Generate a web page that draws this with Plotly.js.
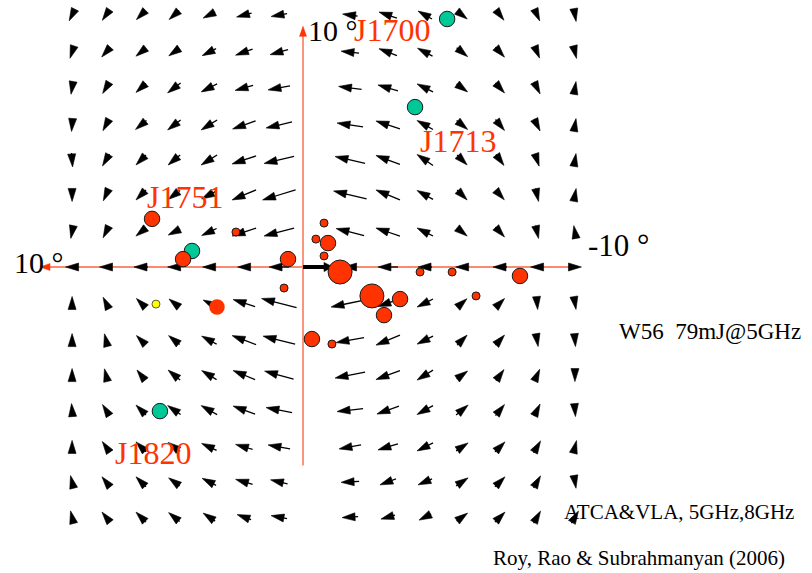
<!DOCTYPE html>
<html><head><meta charset="utf-8">
<script src="https://cdn.plot.ly/plotly-3.0.1.min.js"></script>
<style>html,body{margin:0;padding:0;background:#fff}#chart{width:812px;height:573px}</style>
</head><body><div id="chart"></div>
<script>
// grid of the vector field (degrees: l to the left, b up)
const gridL = [8.78, 7.49, 6.16, 4.90, 3.57, 2.24, 0.91, -0.42, -1.79, -3.23, -4.64, -6.05, -7.49, -8.90, -10.34];
const gridB = [9.58, 8.17, 6.81, 5.40, 4.07, 2.74, 1.33, 0, -1.37, -2.78, -4.11, -5.44, -6.84, -8.17, -9.51];
// vector components (screen right / screen up), one row per gridB value
const arrowU = [
 [-5,-7,-8,-10,-12,-15,-16,null,-15,-18,-14,9,7,5,2],
 [-4,-8,-10,-10,-14,-17,-18,null,-18,-18,-15,11,9,5,3],
 [-2,-6,-10,-13,-16,-18,-22,null,-23,-20,-16,11,9,6,2],
 [-1,-6,-11,-13,-16,-23,-26,null,-26,-24,-16,11,9,6,2],
 [1,-7,-10,-12,-16,-24,-30,null,-30,-24,-16,10,8,4,2],
 [0,-5,-10,-12,-15,-24,-33,null,-33,-24,-16,10,8,3,2],
 [-2,-5,-10,-12,-15,-24,-30,null,-28,-24,-16,10,9,3,-2],
 [-13,-10,-14,-12,-13,-12,-20,null,-12,-20,-14,-12,-14,-11,10],
 [0,-5,-9,-10,-12,-22,-35,null,-38,-20,-16,9,9,1,2],
 [0,-3,-9,-11,-15,-24,-32,null,-28,-24,-16,10,9,2,1],
 [0,-3,-8,-12,-15,-22,-29,null,-30,-24,-16,11,8,5,0],
 [-1,-7,-10,-13,-16,-22,-26,null,-26,-22,-16,12,9,6,1],
 [0,-7,-10,-12,-15,-17,-22,null,-22,-20,-16,12,10,7,3],
 [-3,-8,-10,-11,-14,-17,-17,null,-18,-16,-14,12,10,7,2],
 [-3,-8,-10,-11,-12,-14,-16,null,-16,-14,-12,11,10,7,7]
];
const arrowV = [
 [-10,-10,-8,-9,-6,-4,-3,null,2,6,8,-7,-9,-11,-11],
 [-12,-9,-8,-7,-7,-6,-5,null,2,7,8,-9,-10,-12,-12],
 [-12,-10,-9,-10,-8,-5,-4,null,3,6,8,-8,-10,-12,12],
 [-12,-11,-9,-10,-10,-8,-6,null,4,8,9,-9,-11,-12,12],
 [-14,-12,-10,-10,-10,-8,-7,null,7,9,11,-10,-11,-12,12],
 [-10,-11,-10,-9,-8,-10,-10,null,8,10,9,-10,-9,-13,11],
 [-10,-10,-8,-6,-7,-8,-8,null,7,8,8,-8,-10,-13,11],
 [0,0,0,0,0,0,0,null,0,0,0,0,0,0,0],
 [9,10,9,8,6,7,9,null,-8,-7,-8,8,9,-11,-12],
 [11,12,9,9,8,9,8,null,-5,-10,-8,10,10,-12,-12],
 [11,12,10,10,9,9,8,null,-6,-9,-10,8,11,11,-12],
 [12,11,10,9,9,8,5,null,-3,-8,-9,10,11,12,-12],
 [11,10,10,9,7,5,4,null,-4,-6,-8,8,10,12,12],
 [12,10,10,8,7,5,4,null,-1,-6,-6,8,10,12,-12],
 [12,10,10,9,8,5,3,null,-1,-4,-6,8,10,12,12]
];
// reference vector at the origin
const refL = [0], refB = [0], refU = [30], refV = [0];

// sources
const redL = [-0.80,-0.49,-0.95,-0.80,0.57,-1.41,-4.45,-5.67,-8.25,0.72,-2.62,-3.69,-3.08,-6.58,-0.34,-1.10,5.74,2.55,4.56];
const redB = [1.67,1.06,0.91,0.42,0.30,-0.19,-0.19,-0.19,-0.34,-0.80,-1.10,-1.22,-1.83,-1.10,-2.74,-2.93,1.83,1.33,0.30];
const redClass = [1,1,2,1,2,3,1,1,2,1,3,2,2,1,2,1,2,1,2];
const redPlainL = [3.27], redPlainB = [-1.52], redPlainClass = [2];
const greenL = [-5.48,-4.26,4.22,5.44], greenB = [9.43,6.08,0.61,-5.48], greenClass = [2,2,2,2];
const yellowL = [5.59], yellowB = [-1.41], yellowClass = [1];

const pulsarNames = ['J1700','J1713','J1751','J1820'];
const pulsarLabelL = [-1.86,-4.37,6.01,7.22];
const pulsarLabelB = [9.01,4.79,2.66,-7.07];

const axisHL = [10, -10.45], axisVB = [-7.55, 9.15];

// ---- rendering helpers ----
const PXDEG = 26.3;             // plot pixels per degree (equal on both axes)
const S = 1/PXDEG;              // degrees per vector unit
const HEAD = 13, HW = 4.0;      // arrowhead length / half width (vector units)
const classSize = {1:8, 2:15.5, 3:24};

function glyph(lc, bc, u, v, head, hw, anchorTail){
  const L = Math.hypot(u, v); if (!L) return null;
  const dx = u/L, dy = v/L;
  let tx, ty;
  if (anchorTail){ tx = u; ty = v; }
  else { const E = Math.max(L, head); tx = dx*E/2; ty = dy*E/2; }
  const tlx = tx - dx*L, tly = ty - dy*L;
  const bx = tx - dx*head, by = ty - dy*head;
  const px = -dy, py = dx;
  const D = (x, y) => [lc - x*S, bc + y*S];
  return {
    shaft: L > head ? [D(tlx, tly), D(bx + dx*2, by + dy*2)] : null,
    head: [D(tx, ty), D(bx + px*hw, by + py*hw), D(bx - px*hw, by - py*hw), D(tx, ty)]
  };
}
function collect(list){
  const sx=[], sy=[], hx=[], hy=[];
  list.forEach(g => {
    if (!g) return;
    if (g.shaft){ g.shaft.forEach(p=>{sx.push(p[0]); sy.push(p[1]);}); sx.push(null); sy.push(null); }
    g.head.forEach(p=>{hx.push(p[0]); hy.push(p[1]);}); hx.push(null); hy.push(null);
  });
  return {sx, sy, hx, hy};
}

const fieldGlyphs = [];
gridB.forEach((b, r) => gridL.forEach((l, c) => {
  const u = arrowU[r][c], v = arrowV[r][c];
  if (u === null || v === null) return;
  fieldGlyphs.push(glyph(l, b, u, v, HEAD, HW, false));
}));
const field = collect(fieldGlyphs);

// axes (with arrowheads)
const axisLenH = (axisHL[0]-axisHL[1])*PXDEG, axisLenV = (axisVB[1]-axisVB[0])*PXDEG;
const axes = collect([
  glyph(axisHL[1], 0, -axisLenH, 0, 10, 3.5, true),
  glyph(0, axisVB[0], 0, axisLenV, 10, 3.5, true)
]);
const ref = collect(refL.map((l,i)=>glyph(l, refB[i], refU[i], refV[i], 9, 4.5, true)));

const traces = [
  {x: axes.sx, y: axes.sy, mode:'lines', line:{color:'#fb8a70', width:1.8}, hoverinfo:'skip'},
  {x: axes.hx, y: axes.hy, mode:'lines', fill:'toself', fillcolor:'#ff3300', line:{color:'#ff3300', width:0.5}, hoverinfo:'skip'},
  {x: field.sx, y: field.sy, mode:'lines', line:{color:'#000', width:1.3}, hoverinfo:'skip'},
  {x: field.hx, y: field.hy, mode:'lines', fill:'toself', fillcolor:'#000', line:{color:'#000', width:0.6}, hoverinfo:'skip'},
  {x: ref.sx, y: ref.sy, mode:'lines', line:{color:'#000', width:4}, hoverinfo:'skip'},
  {x: ref.hx, y: ref.hy, mode:'lines', fill:'toself', fillcolor:'#000', line:{color:'#000', width:0.6}, hoverinfo:'skip'},
  {x: greenL, y: greenB, mode:'markers', marker:{size: greenClass.map(k=>classSize[k]), color:'#00c896', opacity:1, line:{color:'#1a1a1a', width:1}}},
  {x: redPlainL, y: redPlainB, mode:'markers', marker:{size: redPlainClass.map(k=>classSize[k]), color:'#ff3300', opacity:1, line:{width:0}}},
  {x: redL, y: redB, mode:'markers', marker:{size: redClass.map(k=>classSize[k]), color:'#ff3300', opacity:1, line:{color:'#1a1a1a', width:1}}},
  {x: yellowL, y: yellowB, mode:'markers', marker:{size: yellowClass.map(k=>classSize[k]), color:'#ffff00', opacity:1, line:{color:'#333', width:0.8}}}
];

const serif = 'Liberation Serif, Times New Roman, serif';
const annotations = [];
pulsarNames.forEach((t,i)=>annotations.push({x:pulsarLabelL[i], y:pulsarLabelB[i], text:t, showarrow:false, xanchor:'left', yanchor:'middle', font:{family:serif, size:32, color:'#ff3300'}}));
annotations.push({x:-0.11, y:9.01, text:'10 °', showarrow:false, xanchor:'left', yanchor:'middle', font:{family:serif, size:30, color:'#000'}});
annotations.push({x:11.07, y:0.19, text:'10 °', showarrow:false, xanchor:'left', yanchor:'middle', font:{family:serif, size:30, color:'#000'}});
annotations.push({x:-10.76, y:0.80, text:'-10 °', showarrow:false, xanchor:'left', yanchor:'middle', font:{family:serif, size:31, color:'#000'}});
annotations.push({x:-11.94, y:-2.47, text:'W56&nbsp;&nbsp;79mJ@5GHz', showarrow:false, xanchor:'left', yanchor:'middle', font:{family:serif, size:23, color:'#000'}});
annotations.push({x:-9.85, y:-9.32, text:'ATCA&amp;VLA, 5GHz,8GHz', showarrow:false, xanchor:'left', yanchor:'middle', font:{family:serif, size:21, color:'#000'}});
annotations.push({x:-7.15, y:-11.06, text:'Roy, Rao &amp; Subrahmanyan (2006)', showarrow:false, xanchor:'left', yanchor:'middle', font:{family:serif, size:21, color:'#000'}});

const layout = {
  width:812, height:573, margin:{l:0,r:0,t:0,b:0},
  paper_bgcolor:'#fff', plot_bgcolor:'#fff', showlegend:false,
  xaxis:{range:[303/PXDEG, (303-812)/PXDEG], visible:false, fixedrange:true},
  yaxis:{range:[(267-573)/PXDEG, 267/PXDEG], visible:false, fixedrange:true},
  annotations
};
Plotly.newPlot('chart', traces, layout, {staticPlot:true, displayModeBar:false});
</script>
</body></html>
